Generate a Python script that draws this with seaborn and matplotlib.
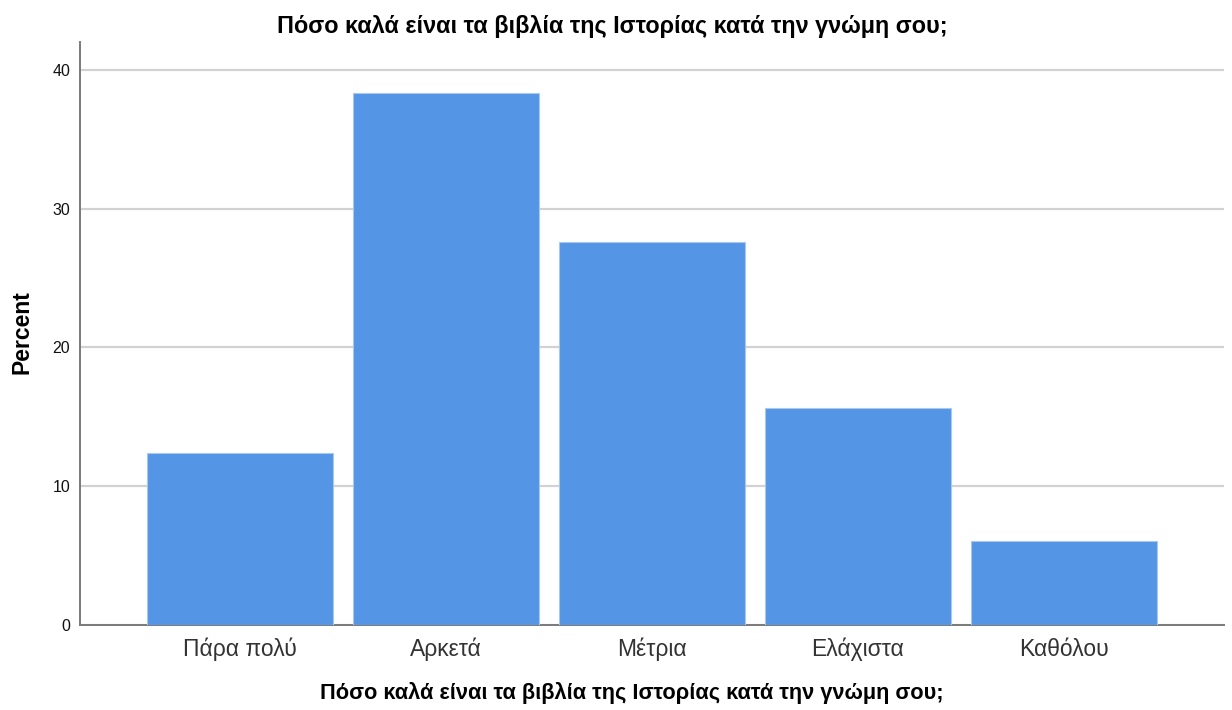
import pandas as pd
import matplotlib
matplotlib.use("Agg")
import matplotlib.pyplot as plt
import seaborn as sns

# data
categories = ["Πάρα πολύ", "Αρκετά", "Μέτρια", "Ελάχιστα", "Καθόλου"]
percent = [12.4, 38.3, 27.6, 15.6, 6.05]
yticks = [0, 10, 20, 30, 40]

title = "Πόσο καλά είναι τα βιβλία της Ιστορίας κατά την γνώμη σου;"

df = pd.DataFrame({"category": categories, "percent": percent})

sns.set_theme(style="white")
plt.rcParams["font.family"] = ["Liberation Sans", "DejaVu Sans"]

fig = plt.figure(figsize=(12.32, 7.1), dpi=100)
ax = fig.add_axes([0.0649, 0.1197, 0.9286, 0.8211])

sns.barplot(data=df, x="category", y="percent", color="#5595E5",
            saturation=1, width=0.9, edgecolor="#A9C8F0", linewidth=0.8,
            ax=ax, zorder=3)

ax.set_ylim(0, 42)
ax.set_xlim(-0.777, 4.777)
ax.set_yticks(yticks)
ax.yaxis.grid(True, color="#d2d2d2", linewidth=1.6, zorder=0)
ax.set_axisbelow(True)

for side in ["top", "right"]:
    ax.spines[side].set_visible(False)
for side in ["left", "bottom"]:
    ax.spines[side].set_color("#7a7a7a")
    ax.spines[side].set_linewidth(1.4)

ax.tick_params(axis="y", labelsize=11.5, length=4, color="#7a7a7a", pad=3,
               labelcolor="#111111")
ax.tick_params(axis="x", labelsize=16.5, length=0, pad=9, labelcolor="#333333")
ax.set_xlabel("")
ax.set_ylabel("")

fig.text(0.497, 0.963, title, ha="center", va="center", fontsize=16.8,
         fontweight="bold", color="black")
fig.text(0.513, 0.024, title, ha="center", va="center", fontsize=15.7,
         fontweight="bold", color="black")
fig.text(0.018, 0.532, "Percent", ha="center", va="center", rotation=90,
         fontsize=16.5, fontweight="bold", color="black")

fig.savefig("out.png", dpi=100)
